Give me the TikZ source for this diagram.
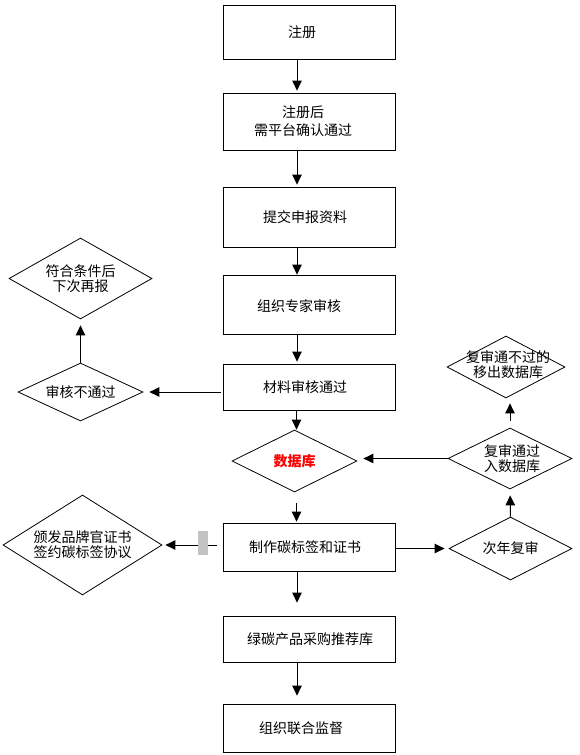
\documentclass[tikz,border=0pt]{standalone}
\usepackage{fontspec}
\setmainfont{Noto Sans CJK SC}
\usetikzlibrary{arrows.meta,shapes.geometric}
\begin{document}
\begin{tikzpicture}[x=1pt,y=-1pt,
  every node/.style={font=\fontsize{14}{15}\selectfont},
  box/.style={draw, line width=0.8pt, minimum width=172pt, inner sep=0pt},
  dia/.style={draw, line width=0.8pt, shape=diamond, inner sep=0pt},
  txt/.style={align=center, inner sep=0pt},
  arr/.style={draw, line width=1pt, -{Triangle[width=9.5pt,length=10pt]}},
]
\useasboundingbox (0,0) rectangle (579,755);
\fill[white] (0,0) rectangle (579,755);
% boxes
\node[box, minimum height=54pt, label={[txt,xshift=-7pt]center:注册}] (b1) at (309,32) {};
\node[box, minimum height=57pt, label={[txt,xshift=-6pt,font=\fontsize{14}{18}\selectfont]center:注册后\\需平台确认通过}] (b2) at (309,121.5) {};
\node[box, minimum height=60pt, label={[txt,xshift=-4pt]center:提交申报资料}] (b3) at (309,217) {};
\node[box, minimum height=59pt, label={[txt,xshift=-10pt,yshift=-2pt]center:组织专家审核}] (b4) at (309,304.5) {};
\node[box, minimum height=46pt, label={[txt,xshift=-4pt]center:材料审核通过}] (b5) at (309,387) {};
\node[box, minimum height=48pt, label={[txt,xshift=-4pt]center:制作碳标签和证书}] (b6) at (309,547) {};
\node[box, minimum height=46pt, label={[txt,xshift=1pt]center:绿碳产品采购推荐库}] (b7) at (309,639) {};
\node[box, minimum height=48pt, label={[txt,xshift=-8pt]center:组织联合监督}] (b8) at (309,728) {};
% diamonds
\node[dia, minimum width=143pt, minimum height=81pt, label={[txt]center:符合条件后\\下次再报}] (dfh) at (80.5,278.5) {};
\node[dia, minimum width=125pt, minimum height=58pt, label={[txt]center:审核不通过}] (dsh) at (80.5,392) {};
\node[dia, minimum width=159pt, minimum height=100pt, label={[txt]center:颁发品牌官证书\\签约碳标签协议}] (dbf) at (82.5,545) {};
\node[dia, minimum width=125pt, minimum height=62pt, label={[txt,text=red,font=\fontsize{14}{15}\selectfont\bfseries]center:数据库}] (ddb) at (294.5,461) {};
\node[dia, minimum width=124pt, minimum height=61pt, label={[txt,xshift=2pt]center:复审通过\\入数据库}] (dfs) at (510,458.5) {};
\node[dia, minimum width=118pt, minimum height=62pt, label={[txt,xshift=2pt,yshift=2pt]center:复审通不过的\\移出数据库}] (dyc) at (506,367) {};
\node[dia, minimum width=123pt, minimum height=63pt, label={[txt]center:次年复审}] (dcn) at (510.5,548.5) {};
% vertical main arrows
\draw[arr, shorten >=2pt] ([xshift=-12pt]b1.south) -- ([xshift=-12pt]b2.north);
\draw[arr, shorten >=2pt] ([xshift=-12pt]b2.south) -- ([xshift=-12pt]b3.north);
\draw[arr] ([xshift=-12pt]b3.south) -- ([xshift=-12pt]b4.north);
\draw[arr, shorten >=2pt] ([xshift=-12pt]b4.south) -- ([xshift=-12pt]b5.north);
\draw[arr] ([xshift=2pt]ddb.north |- b5.south) -- ([xshift=2pt]ddb.north);
\draw[arr, shorten <=11pt, shorten >=1pt] ([xshift=2pt]ddb.south) -- ([xshift=2pt]ddb.south |- b6.north);
\draw[arr, shorten >=13pt] ([xshift=-12pt]b6.south) -- ([xshift=-12pt]b7.north);
\draw[arr, shorten >=8pt] ([xshift=-12pt]b7.south) -- ([xshift=-12pt]b8.north);
% left branch
\draw[arr, shorten <=2pt, shorten >=6pt] (b5.west |- dsh.east) -- (dsh.east);
\draw[arr, shorten >=6pt] (dsh.north) -- (dfh.south);
\draw[arr, shorten <=6pt, shorten >=3pt] (b6.west |- dbf.east) -- (dbf.east);
\fill[black!23] (198,531) rectangle (208,555);
% right branch
\draw[arr, shorten >=4pt] (b6.east |- dcn.west) -- (dcn.west);
\draw[arr, shorten >=6pt] (dcn.north) -- (dfs.south);
\draw[arr, shorten >=6pt] (dfs.west) -- (dfs.west -| ddb.east);
\draw[arr, shorten <=7pt, shorten >=5pt] (dfs.north) -- (dfs.north |- dyc.south);
\end{tikzpicture}
\end{document}
